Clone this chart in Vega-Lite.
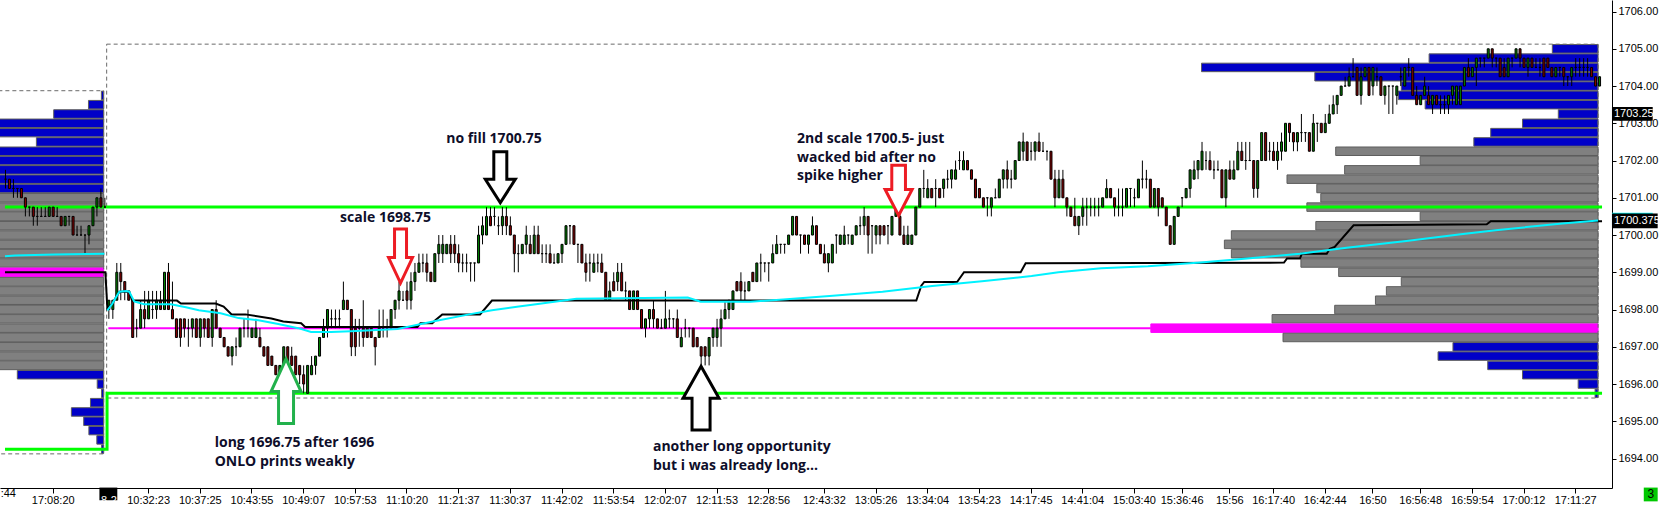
{
  "$schema": "https://vega.github.io/schema/vega-lite/v6.json",
  "width": 1612,
  "height": 488,
  "autosize": {"type": "none"},
  "padding": {"left": 0, "top": 0, "right": 54, "bottom": 22},
  "background": "#ffffff",
  "config": {
    "view": {"stroke": null},
    "axis": {"grid": false, "domainColor": "#000000", "tickColor": "#000000", "labelFont": "Liberation Sans", "labelFontSize": 11, "labelColor": "#000000", "labelFlush": false, "labelOverlap": false}
  },
  "datasets": {
    "vpCur": [
      {"p":1705.0,"s":363.25,"k":"out"},{"p":1704.75,"s":332.25,"k":"out"},{"p":1704.5,"s":275,"k":"out"},{"p":1704.25,"s":303.5,"k":"out"},
      {"p":1704.0,"s":325.25,"k":"out"},{"p":1703.75,"s":324.5,"k":"out"},{"p":1703.5,"s":331.25,"k":"out"},{"p":1703.25,"s":364.75,"k":"out"},
      {"p":1703.0,"s":355.75,"k":"out"},{"p":1702.75,"s":347.75,"k":"out"},{"p":1702.5,"s":343.5,"k":"out"},{"p":1702.25,"s":308.75,"k":"va"},
      {"p":1702.0,"s":330,"k":"va"},{"p":1701.75,"s":311,"k":"va"},{"p":1701.5,"s":296.5,"k":"va"},{"p":1701.25,"s":304,"k":"va"},
      {"p":1701.0,"s":305,"k":"va"},{"p":1700.75,"s":301.5,"k":"va"},{"p":1700.5,"s":330,"k":"va"},{"p":1700.25,"s":303.75,"k":"va"},
      {"p":1700.0,"s":282.5,"k":"va"},{"p":1699.75,"s":280.75,"k":"va"},{"p":1699.5,"s":282.5,"k":"va"},{"p":1699.25,"s":300,"k":"va"},
      {"p":1699.0,"s":309.5,"k":"va"},{"p":1698.75,"s":325.25,"k":"va"},{"p":1698.5,"s":321.5,"k":"va"},{"p":1698.25,"s":318.75,"k":"va"},
      {"p":1698.0,"s":308.5,"k":"va"},{"p":1697.75,"s":292.75,"k":"va"},{"p":1697.5,"s":262.25,"k":"poc"},{"p":1697.25,"s":295.5,"k":"va"},
      {"p":1697.0,"s":338.25,"k":"out"},{"p":1696.75,"s":334.5,"k":"out"},{"p":1696.5,"s":347,"k":"out"},{"p":1696.25,"s":355.75,"k":"out"},
      {"p":1696.0,"s":369.75,"k":"out"},{"p":1695.75,"s":374,"k":"out"}
    ],
    "vpPrev": [
      {"p":1703.75,"s":-1.75,"k":"out"},{"p":1703.5,"s":-5,"k":"out"},{"p":1703.25,"s":-13.75,"k":"out"},{"p":1703.0,"s":-39,"k":"out"},
      {"p":1702.75,"s":-34,"k":"out"},{"p":1702.5,"s":-18.1,"k":"out"},{"p":1702.25,"s":-36,"k":"out"},{"p":1702.0,"s":-42,"k":"out"},
      {"p":1701.75,"s":-45,"k":"out"},{"p":1701.5,"s":-40,"k":"out"},{"p":1701.25,"s":-37,"k":"out"},{"p":1701.0,"s":-41,"k":"va"},
      {"p":1700.75,"s":-48,"k":"va"},{"p":1700.5,"s":-53,"k":"va"},{"p":1700.25,"s":-51,"k":"va"},{"p":1700.0,"s":-47,"k":"va"},
      {"p":1699.75,"s":-45,"k":"va"},{"p":1699.5,"s":-50,"k":"va"},{"p":1699.25,"s":-56,"k":"va"},{"p":1699.0,"s":-63,"k":"poc"},
      {"p":1698.75,"s":-54,"k":"va"},{"p":1698.5,"s":-49,"k":"va"},{"p":1698.25,"s":-46,"k":"va"},{"p":1698.0,"s":-44,"k":"va"},
      {"p":1697.75,"s":-42,"k":"va"},{"p":1697.5,"s":-39,"k":"va"},{"p":1697.25,"s":-37,"k":"va"},{"p":1697.0,"s":-35,"k":"va"},
      {"p":1696.75,"s":-32,"k":"va"},{"p":1696.5,"s":-31,"k":"va"},{"p":1696.25,"s":-22.9,"k":"out"},{"p":1696.0,"s":-2.8,"k":"out"},
      {"p":1695.75,"s":-1.7,"k":"out"},{"p":1695.5,"s":-4.5,"k":"out"},{"p":1695.25,"s":-9.3,"k":"out"},{"p":1695.0,"s":-6.2,"k":"out"},
      {"p":1694.75,"s":-4.9,"k":"out"},{"p":1694.5,"s":-2.9,"k":"out"},{"p":1694.25,"s":-1.7,"k":"out"}
    ],
    "rng": [
      {"a":-0.425,"b":374.75,"lo":1695.625,"hi":1705.125},
      {"a":-40,"b":-1.175,"lo":1694.125,"hi":1703.875}
    ],
    "grn": [
      {"g":"a","n":0,"i":-26,"p":1700.75},{"g":"a","n":1,"i":375.75,"p":1700.75},
      {"g":"b","n":0,"i":-26,"p":1694.25},{"g":"b","n":1,"i":-0.33,"p":1694.25},{"g":"b","n":2,"i":-0.33,"p":1695.75},{"g":"b","n":3,"i":375.75,"p":1695.75}
    ],
    "blk": [
      {"i":-26,"p":1699.0},{"i":-0.75,"p":1699.0},{"i":-0.25,"p":1698.03},{"i":1,"p":1698.16},{"i":2,"p":1698.34},{"i":2.75,"p":1698.48},
      {"i":5.25,"p":1698.48},{"i":6,"p":1698.24},{"i":17.25,"p":1698.24},{"i":18.25,"p":1698.16},{"i":27,"p":1698.16},{"i":29,"p":1698.08},
      {"i":31,"p":1697.87},{"i":34.5,"p":1697.87},{"i":41,"p":1697.76},{"i":44,"p":1697.68},{"i":48.5,"p":1697.63},{"i":49.5,"p":1697.53},
      {"i":77.75,"p":1697.53},{"i":78.5,"p":1697.63},{"i":81.5,"p":1697.63},{"i":82.25,"p":1697.71},{"i":84,"p":1697.87},{"i":93.5,"p":1697.87},
      {"i":96.5,"p":1698.24},{"i":203.25,"p":1698.24},{"i":204.5,"p":1698.64},{"i":205.25,"p":1698.74},{"i":213.5,"p":1698.74},{"i":215.25,"p":1699.0},
      {"i":229.5,"p":1699.0},{"i":230.75,"p":1699.24},{"i":295.75,"p":1699.26},{"i":296.5,"p":1699.37},{"i":299.75,"p":1699.37},{"i":300.25,"p":1699.5},
      {"i":306.5,"p":1699.5},{"i":307.25,"p":1699.63},{"i":308.5,"p":1699.68},{"i":313.25,"p":1700.26},{"i":346.75,"p":1700.29},{"i":347.75,"p":1700.37},
      {"i":375.75,"p":1700.37}
    ],
    "cyn": [
      {"s":0,"i":-26,"p":1699.43},{"s":0,"i":-23.5,"p":1699.45},{"s":0,"i":-13.5,"p":1699.48},{"s":0,"i":-1,"p":1699.5},
      {"s":1,"i":-0.25,"p":1697.98},{"s":1,"i":1,"p":1698.16},{"s":1,"i":2.75,"p":1698.48},{"s":1,"i":4.5,"p":1698.5},{"s":1,"i":5.25,"p":1698.48},
      {"s":1,"i":6.5,"p":1698.22},{"s":1,"i":9,"p":1698.14},{"s":1,"i":15.75,"p":1698.14},{"s":1,"i":19.5,"p":1698.06},{"s":1,"i":22.75,"p":1697.98},
      {"s":1,"i":28.25,"p":1697.9},{"s":1,"i":32.75,"p":1697.77},{"s":1,"i":37.75,"p":1697.71},{"s":1,"i":42.75,"p":1697.61},{"s":1,"i":47.75,"p":1697.5},
      {"s":1,"i":51,"p":1697.4},{"s":1,"i":56,"p":1697.4},{"s":1,"i":61,"p":1697.42},{"s":1,"i":72.75,"p":1697.48},{"s":1,"i":82.25,"p":1697.69},
      {"s":1,"i":90.75,"p":1697.87},{"s":1,"i":96.5,"p":1697.98},{"s":1,"i":103.25,"p":1698.08},{"s":1,"i":109,"p":1698.16},{"s":1,"i":117.75,"p":1698.29},
      {"s":1,"i":145.75,"p":1698.32},{"s":1,"i":149,"p":1698.21},{"s":1,"i":161.5,"p":1698.21},{"s":1,"i":169.75,"p":1698.27},{"s":1,"i":182.25,"p":1698.37},
      {"s":1,"i":194.75,"p":1698.48},{"s":1,"i":207.25,"p":1698.63},{"s":1,"i":219.75,"p":1698.76},{"s":1,"i":232.25,"p":1698.9},{"s":1,"i":239,"p":1699.0},
      {"s":1,"i":249.75,"p":1699.11},{"s":1,"i":261.5,"p":1699.16},{"s":1,"i":274.75,"p":1699.26},{"s":1,"i":286.5,"p":1699.37},{"s":1,"i":299.75,"p":1699.5},
      {"s":1,"i":311.5,"p":1699.66},{"s":1,"i":326.5,"p":1699.84},{"s":1,"i":340.75,"p":1700.03},{"s":1,"i":349,"p":1700.13},{"s":1,"i":365.75,"p":1700.31},
      {"s":1,"i":374.75,"p":1700.39}
    ],
    "arrows": [
      {"k":"r1","i":73.5,"p":1699.435},
      {"k":"b1","i":98.6,"p":1701.55},
      {"k":"r2","i":198.8,"p":1701.2},
      {"k":"g1","i":44.7,"p":1695.81},
      {"k":"b2","i":149.1,"p":1695.62}
    ],
    "notes": [
      {"i":85,"p":1702.58,"t":"no fill 1700.75"},
      {"i":58.3,"p":1700.47,"t":"scale 1698.75"},
      {"i":173.25,"p":1702.58,"t":"2nd scale 1700.5- just"},
      {"i":173.25,"p":1702.08,"t":"wacked bid after no"},
      {"i":173.25,"p":1701.58,"t":"spike higher"},
      {"i":26.75,"p":1694.42,"t":"long 1696.75 after 1696"},
      {"i":26.75,"p":1693.91,"t":"ONLO prints weakly"},
      {"i":137,"p":1694.3,"t":"another long opportunity"},
      {"i":137,"p":1693.81,"t":"but i was already long..."}
    ],
    "candles": [
      {"i":-26,"o":1701.5,"h":1701.75,"l":1701.25,"c":1701.5},{"i":-25,"o":1701.5,"h":1701.5,"l":1701.25,"c":1701.25},
      {"i":-24,"o":1701.25,"h":1701.5,"l":1701.0,"c":1701.25},{"i":-23,"o":1701.25,"h":1701.25,"l":1701.0,"c":1701.25},
      {"i":-22,"o":1701.25,"h":1701.25,"l":1701.0,"c":1701.0},{"i":-21,"o":1701.0,"h":1701.0,"l":1700.5,"c":1700.75},
      {"i":-20,"o":1700.75,"h":1700.75,"l":1700.5,"c":1700.75},{"i":-19,"o":1700.75,"h":1700.75,"l":1700.25,"c":1700.5},
      {"i":-18,"o":1700.5,"h":1700.75,"l":1700.25,"c":1700.5},{"i":-17,"o":1700.5,"h":1700.75,"l":1700.5,"c":1700.5},
      {"i":-16,"o":1700.5,"h":1700.75,"l":1700.5,"c":1700.5},{"i":-15,"o":1700.5,"h":1700.75,"l":1700.5,"c":1700.75},
      {"i":-14,"o":1700.75,"h":1700.75,"l":1700.5,"c":1700.5},{"i":-13,"o":1700.5,"h":1700.75,"l":1700.5,"c":1700.5},
      {"i":-12,"o":1700.5,"h":1700.5,"l":1700.25,"c":1700.25},{"i":-11,"o":1700.25,"h":1700.5,"l":1700.25,"c":1700.5},
      {"i":-10,"o":1700.5,"h":1700.5,"l":1700.25,"c":1700.5},{"i":-9,"o":1700.5,"h":1700.5,"l":1700.0,"c":1700.0},
      {"i":-8,"o":1700.0,"h":1700.25,"l":1700.0,"c":1700.0},{"i":-7,"o":1700.0,"h":1700.25,"l":1700.0,"c":1700.0},
      {"i":-6,"o":1700.0,"h":1700.0,"l":1699.5,"c":1700.0},{"i":-5,"o":1700.0,"h":1700.25,"l":1699.75,"c":1700.25},
      {"i":-4,"o":1700.25,"h":1700.75,"l":1700.25,"c":1700.75},{"i":-3,"o":1700.75,"h":1701.0,"l":1700.5,"c":1701.0},
      {"i":-2,"o":1701.0,"h":1701.25,"l":1700.75,"c":1700.75},{"i":-1,"o":1700.75,"h":1701.0,"l":1700.75,"c":1700.75},
      {"i":0,"o":1698.0,"h":1698.25,"l":1697.75,"c":1698.25},{"i":1,"o":1698.0,"h":1698.25,"l":1697.75,"c":1698.25},
      {"i":2,"o":1698.25,"h":1699.25,"l":1698.25,"c":1699.0},{"i":3,"o":1699.0,"h":1699.25,"l":1698.25,"c":1698.75},
      {"i":4,"o":1698.75,"h":1698.75,"l":1698.25,"c":1698.5},{"i":5,"o":1698.5,"h":1698.5,"l":1698.25,"c":1698.25},
      {"i":6,"o":1698.25,"h":1698.25,"l":1697.25,"c":1697.25},{"i":7,"o":1697.5,"h":1697.75,"l":1697.25,"c":1697.5},
      {"i":8,"o":1697.5,"h":1698.25,"l":1697.5,"c":1698.0},{"i":9,"o":1698.0,"h":1698.5,"l":1697.5,"c":1697.75},
      {"i":10,"o":1697.75,"h":1698.5,"l":1697.75,"c":1698.25},{"i":11,"o":1698.0,"h":1698.5,"l":1697.75,"c":1698.0},
      {"i":12,"o":1698.0,"h":1698.5,"l":1697.75,"c":1698.25},{"i":13,"o":1698.25,"h":1698.5,"l":1698.0,"c":1698.0},
      {"i":14,"o":1698.0,"h":1699.0,"l":1698.0,"c":1699.0},{"i":15,"o":1699.0,"h":1699.25,"l":1698.0,"c":1698.0},
      {"i":16,"o":1698.0,"h":1698.75,"l":1697.75,"c":1697.75},{"i":17,"o":1697.75,"h":1697.75,"l":1697.25,"c":1697.25},
      {"i":18,"o":1697.75,"h":1697.75,"l":1697.0,"c":1697.25},{"i":19,"o":1697.75,"h":1697.75,"l":1697.25,"c":1697.5},
      {"i":20,"o":1697.5,"h":1697.75,"l":1697.0,"c":1697.5},{"i":21,"o":1697.5,"h":1697.75,"l":1697.25,"c":1697.75},
      {"i":22,"o":1697.75,"h":1697.75,"l":1697.25,"c":1697.25},{"i":23,"o":1697.25,"h":1697.75,"l":1697.0,"c":1697.75},
      {"i":24,"o":1697.75,"h":1697.75,"l":1697.25,"c":1697.5},{"i":25,"o":1697.75,"h":1697.75,"l":1697.25,"c":1697.25},
      {"i":26,"o":1697.25,"h":1698.0,"l":1697.0,"c":1698.0},{"i":27,"o":1698.0,"h":1698.25,"l":1697.5,"c":1697.5},
      {"i":28,"o":1697.5,"h":1697.5,"l":1697.25,"c":1697.25},{"i":29,"o":1697.25,"h":1697.25,"l":1697.0,"c":1697.0},
      {"i":30,"o":1697.0,"h":1697.0,"l":1696.75,"c":1696.75},{"i":31,"o":1696.75,"h":1697.0,"l":1696.5,"c":1697.0},
      {"i":32,"o":1697.0,"h":1697.25,"l":1696.75,"c":1697.0},{"i":33,"o":1697.0,"h":1697.5,"l":1697.0,"c":1697.5},
      {"i":34,"o":1697.5,"h":1697.75,"l":1697.25,"c":1697.5},{"i":35,"o":1697.5,"h":1698.0,"l":1697.25,"c":1697.5},
      {"i":36,"o":1697.25,"h":1697.5,"l":1697.25,"c":1697.5},{"i":37,"o":1697.25,"h":1697.75,"l":1697.25,"c":1697.5},
      {"i":38,"o":1697.25,"h":1697.5,"l":1697.0,"c":1697.0},{"i":39,"o":1697.0,"h":1697.0,"l":1696.75,"c":1696.75},
      {"i":40,"o":1697.0,"h":1697.0,"l":1696.5,"c":1696.5},{"i":41,"o":1696.75,"h":1696.75,"l":1696.5,"c":1696.5},
      {"i":42,"o":1696.5,"h":1696.5,"l":1696.25,"c":1696.25},{"i":43,"o":1696.25,"h":1696.5,"l":1696.25,"c":1696.5},
      {"i":44,"o":1696.25,"h":1697.0,"l":1696.25,"c":1697.0},{"i":45,"o":1697.0,"h":1697.0,"l":1696.5,"c":1696.5},
      {"i":46,"o":1696.75,"h":1697.0,"l":1696.5,"c":1696.5},{"i":47,"o":1696.75,"h":1696.75,"l":1696.25,"c":1696.25},
      {"i":48,"o":1696.5,"h":1696.5,"l":1696.0,"c":1696.25},{"i":49,"o":1696.25,"h":1696.5,"l":1695.75,"c":1696.0},
      {"i":50,"o":1695.75,"h":1696.5,"l":1695.75,"c":1696.5},{"i":51,"o":1696.25,"h":1696.75,"l":1696.25,"c":1696.5},
      {"i":52,"o":1696.5,"h":1696.75,"l":1696.25,"c":1696.75},{"i":53,"o":1696.75,"h":1697.25,"l":1696.75,"c":1697.25},
      {"i":54,"o":1697.25,"h":1697.75,"l":1697.25,"c":1697.5},{"i":55,"o":1697.5,"h":1698.0,"l":1697.25,"c":1698.0},
      {"i":56,"o":1697.75,"h":1698.0,"l":1697.5,"c":1697.75},{"i":57,"o":1697.75,"h":1698.0,"l":1697.5,"c":1697.75},
      {"i":58,"o":1697.75,"h":1698.0,"l":1697.5,"c":1697.75},{"i":59,"o":1698.0,"h":1698.75,"l":1698.0,"c":1698.25},
      {"i":60,"o":1698.25,"h":1698.25,"l":1698.0,"c":1698.0},{"i":61,"o":1698.0,"h":1698.0,"l":1696.75,"c":1697.0},
      {"i":62,"o":1697.5,"h":1697.75,"l":1696.75,"c":1697.0},{"i":63,"o":1697.5,"h":1697.75,"l":1697.0,"c":1697.5},
      {"i":64,"o":1697.5,"h":1698.25,"l":1697.0,"c":1697.25},{"i":65,"o":1697.5,"h":1697.5,"l":1697.25,"c":1697.25},
      {"i":66,"o":1697.5,"h":1697.5,"l":1697.25,"c":1697.25},{"i":67,"o":1697.25,"h":1697.25,"l":1696.5,"c":1697.0},
      {"i":68,"o":1697.25,"h":1698.0,"l":1697.25,"c":1697.5},{"i":69,"o":1697.5,"h":1698.0,"l":1697.25,"c":1697.5},
      {"i":70,"o":1697.5,"h":1697.75,"l":1697.25,"c":1697.5},{"i":71,"o":1697.5,"h":1698.0,"l":1697.5,"c":1698.0},
      {"i":72,"o":1698.0,"h":1698.25,"l":1697.75,"c":1698.25},{"i":73,"o":1698.25,"h":1698.75,"l":1698.0,"c":1698.5},
      {"i":74,"o":1698.25,"h":1698.5,"l":1698.25,"c":1698.25},{"i":75,"o":1698.5,"h":1698.75,"l":1698.0,"c":1698.25},
      {"i":76,"o":1698.25,"h":1699.0,"l":1698.0,"c":1698.75},{"i":77,"o":1698.75,"h":1699.25,"l":1698.5,"c":1699.0},
      {"i":78,"o":1699.0,"h":1699.5,"l":1699.0,"c":1699.25},{"i":79,"o":1699.25,"h":1699.5,"l":1699.0,"c":1699.25},
      {"i":80,"o":1699.25,"h":1699.5,"l":1698.75,"c":1699.0},{"i":81,"o":1699.0,"h":1699.0,"l":1698.75,"c":1698.75},
      {"i":82,"o":1698.75,"h":1699.5,"l":1698.75,"c":1699.5},{"i":83,"o":1699.5,"h":1700.0,"l":1699.25,"c":1699.75},
      {"i":84,"o":1699.5,"h":1700.0,"l":1699.25,"c":1699.75},{"i":85,"o":1699.5,"h":1699.75,"l":1699.5,"c":1699.75},
      {"i":86,"o":1699.75,"h":1700.0,"l":1699.25,"c":1699.5},{"i":87,"o":1699.75,"h":1700.0,"l":1699.25,"c":1699.5},
      {"i":88,"o":1699.5,"h":1699.75,"l":1699.0,"c":1699.25},{"i":89,"o":1699.25,"h":1699.5,"l":1699.0,"c":1699.25},
      {"i":90,"o":1699.25,"h":1699.5,"l":1699.0,"c":1699.25},{"i":91,"o":1699.25,"h":1699.25,"l":1698.75,"c":1699.25},
      {"i":92,"o":1699.25,"h":1699.25,"l":1698.75,"c":1699.25},{"i":93,"o":1699.25,"h":1700.25,"l":1699.25,"c":1700.0},
      {"i":94,"o":1700.0,"h":1700.5,"l":1699.75,"c":1700.25},{"i":95,"o":1700.0,"h":1700.75,"l":1700.0,"c":1700.5},
      {"i":96,"o":1700.5,"h":1700.75,"l":1700.25,"c":1700.25},{"i":97,"o":1700.5,"h":1700.75,"l":1700.25,"c":1700.5},
      {"i":98,"o":1700.25,"h":1700.5,"l":1700.0,"c":1700.25},{"i":99,"o":1700.25,"h":1700.75,"l":1700.0,"c":1700.5},
      {"i":100,"o":1700.5,"h":1700.75,"l":1700.0,"c":1700.25},{"i":101,"o":1700.25,"h":1700.5,"l":1700.0,"c":1700.0},
      {"i":102,"o":1700.0,"h":1700.0,"l":1699.0,"c":1699.5},{"i":103,"o":1699.5,"h":1699.75,"l":1699.0,"c":1699.5},
      {"i":104,"o":1699.5,"h":1699.75,"l":1699.5,"c":1699.75},{"i":105,"o":1699.75,"h":1700.25,"l":1699.5,"c":1700.0},
      {"i":106,"o":1699.75,"h":1700.0,"l":1699.5,"c":1699.5},{"i":107,"o":1699.5,"h":1700.25,"l":1699.5,"c":1700.0},
      {"i":108,"o":1700.0,"h":1700.25,"l":1699.5,"c":1699.5},{"i":109,"o":1699.5,"h":1699.75,"l":1699.25,"c":1699.5},
      {"i":110,"o":1699.5,"h":1699.75,"l":1699.25,"c":1699.5},{"i":111,"o":1699.5,"h":1699.75,"l":1699.25,"c":1699.25},
      {"i":112,"o":1699.25,"h":1699.5,"l":1699.25,"c":1699.25},{"i":113,"o":1699.25,"h":1699.5,"l":1699.25,"c":1699.5},
      {"i":114,"o":1699.5,"h":1699.75,"l":1699.25,"c":1699.75},{"i":115,"o":1699.75,"h":1700.25,"l":1699.75,"c":1700.25},
      {"i":116,"o":1700.25,"h":1700.25,"l":1699.75,"c":1700.25},{"i":117,"o":1700.25,"h":1700.25,"l":1699.75,"c":1699.75},
      {"i":118,"o":1699.75,"h":1699.75,"l":1699.25,"c":1699.75},{"i":119,"o":1699.75,"h":1699.75,"l":1699.25,"c":1699.25},
      {"i":120,"o":1699.25,"h":1699.5,"l":1698.75,"c":1699.0},{"i":121,"o":1699.25,"h":1699.5,"l":1698.75,"c":1699.25},
      {"i":122,"o":1699.0,"h":1699.5,"l":1699.0,"c":1699.25},{"i":123,"o":1699.25,"h":1699.5,"l":1699.0,"c":1699.25},
      {"i":124,"o":1699.25,"h":1699.5,"l":1699.0,"c":1699.0},{"i":125,"o":1699.0,"h":1699.0,"l":1698.25,"c":1698.25},
      {"i":126,"o":1698.25,"h":1698.75,"l":1698.25,"c":1698.5},{"i":127,"o":1698.75,"h":1699.0,"l":1698.5,"c":1698.5},
      {"i":128,"o":1698.75,"h":1699.25,"l":1698.5,"c":1699.0},{"i":129,"o":1699.0,"h":1699.25,"l":1698.5,"c":1698.5},
      {"i":130,"o":1698.5,"h":1698.75,"l":1698.25,"c":1698.5},{"i":131,"o":1698.5,"h":1698.5,"l":1698.0,"c":1698.0},
      {"i":132,"o":1698.0,"h":1698.5,"l":1698.0,"c":1698.5},{"i":133,"o":1698.5,"h":1698.5,"l":1698.0,"c":1698.0},
      {"i":134,"o":1698.0,"h":1698.0,"l":1697.5,"c":1697.5},{"i":135,"o":1697.5,"h":1697.75,"l":1697.25,"c":1697.75},
      {"i":136,"o":1697.75,"h":1698.0,"l":1697.5,"c":1698.0},{"i":137,"o":1698.0,"h":1698.25,"l":1697.5,"c":1697.75},
      {"i":138,"o":1697.75,"h":1697.75,"l":1697.5,"c":1697.5},{"i":139,"o":1697.5,"h":1697.75,"l":1697.5,"c":1697.5},
      {"i":140,"o":1697.5,"h":1698.5,"l":1697.5,"c":1697.75},{"i":141,"o":1697.75,"h":1698.0,"l":1697.5,"c":1697.75},
      {"i":142,"o":1697.75,"h":1697.75,"l":1697.5,"c":1697.75},{"i":143,"o":1697.75,"h":1698.0,"l":1697.25,"c":1697.25},
      {"i":144,"o":1697.0,"h":1697.5,"l":1697.0,"c":1697.25},{"i":145,"o":1697.5,"h":1697.75,"l":1697.25,"c":1697.5},
      {"i":146,"o":1697.5,"h":1697.5,"l":1697.25,"c":1697.5},{"i":147,"o":1697.5,"h":1697.5,"l":1697.0,"c":1697.0},
      {"i":148,"o":1697.25,"h":1697.25,"l":1697.0,"c":1697.0},{"i":149,"o":1697.0,"h":1697.0,"l":1696.5,"c":1696.75},
      {"i":150,"o":1697.0,"h":1697.0,"l":1696.5,"c":1696.75},{"i":151,"o":1696.75,"h":1697.25,"l":1696.5,"c":1697.25},
      {"i":152,"o":1697.25,"h":1697.5,"l":1697.0,"c":1697.5},{"i":153,"o":1697.25,"h":1697.75,"l":1697.0,"c":1697.5},
      {"i":154,"o":1697.5,"h":1698.0,"l":1697.0,"c":1697.75},{"i":155,"o":1697.75,"h":1698.25,"l":1697.75,"c":1698.0},
      {"i":156,"o":1698.0,"h":1698.25,"l":1697.75,"c":1698.25},{"i":157,"o":1698.0,"h":1698.5,"l":1698.0,"c":1698.5},
      {"i":158,"o":1698.75,"h":1698.75,"l":1698.5,"c":1698.5},{"i":159,"o":1698.75,"h":1699.0,"l":1698.25,"c":1698.5},
      {"i":160,"o":1698.5,"h":1698.75,"l":1698.25,"c":1698.5},{"i":161,"o":1698.5,"h":1698.75,"l":1698.5,"c":1698.75},
      {"i":162,"o":1699.0,"h":1699.0,"l":1698.75,"c":1698.75},{"i":163,"o":1698.75,"h":1699.25,"l":1698.75,"c":1699.25},
      {"i":164,"o":1699.25,"h":1699.5,"l":1698.75,"c":1699.25},{"i":165,"o":1699.25,"h":1699.25,"l":1699.0,"c":1699.25},
      {"i":166,"o":1699.25,"h":1699.25,"l":1698.75,"c":1699.25},{"i":167,"o":1699.25,"h":1699.75,"l":1699.25,"c":1699.5},
      {"i":168,"o":1699.5,"h":1700.0,"l":1699.5,"c":1699.75},{"i":169,"o":1699.75,"h":1699.75,"l":1699.5,"c":1699.75},
      {"i":170,"o":1699.75,"h":1699.75,"l":1699.5,"c":1699.75},{"i":171,"o":1699.75,"h":1700.0,"l":1699.75,"c":1700.0},
      {"i":172,"o":1700.0,"h":1700.5,"l":1700.0,"c":1700.5},{"i":173,"o":1700.5,"h":1700.5,"l":1700.0,"c":1700.0},
      {"i":174,"o":1700.0,"h":1700.0,"l":1699.5,"c":1700.0},{"i":175,"o":1700.0,"h":1700.0,"l":1699.75,"c":1699.75},
      {"i":176,"o":1699.75,"h":1700.0,"l":1699.5,"c":1700.0},{"i":177,"o":1700.0,"h":1700.5,"l":1700.0,"c":1700.25},
      {"i":178,"o":1700.25,"h":1700.25,"l":1699.75,"c":1699.75},{"i":179,"o":1699.75,"h":1699.75,"l":1699.5,"c":1699.5},
      {"i":180,"o":1699.5,"h":1699.75,"l":1699.25,"c":1699.25},{"i":181,"o":1699.25,"h":1699.5,"l":1699.0,"c":1699.5},
      {"i":182,"o":1699.25,"h":1699.75,"l":1699.25,"c":1699.75},{"i":183,"o":1700.0,"h":1700.0,"l":1699.5,"c":1700.0},
      {"i":184,"o":1699.75,"h":1700.0,"l":1699.75,"c":1700.0},{"i":185,"o":1699.75,"h":1700.25,"l":1699.75,"c":1700.0},
      {"i":186,"o":1700.0,"h":1700.0,"l":1699.75,"c":1700.0},{"i":187,"o":1699.75,"h":1700.0,"l":1699.75,"c":1700.0},
      {"i":188,"o":1700.0,"h":1700.25,"l":1700.0,"c":1700.25},{"i":189,"o":1700.25,"h":1700.5,"l":1700.0,"c":1700.25},
      {"i":190,"o":1700.25,"h":1700.75,"l":1700.0,"c":1700.5},{"i":191,"o":1700.5,"h":1700.5,"l":1699.5,"c":1700.0},
      {"i":192,"o":1700.25,"h":1700.25,"l":1699.5,"c":1700.25},{"i":193,"o":1700.0,"h":1700.25,"l":1699.75,"c":1700.25},
      {"i":194,"o":1700.25,"h":1700.25,"l":1699.75,"c":1700.0},{"i":195,"o":1700.25,"h":1700.25,"l":1700.0,"c":1700.0},
      {"i":196,"o":1700.25,"h":1700.25,"l":1699.75,"c":1700.25},{"i":197,"o":1700.0,"h":1700.5,"l":1700.0,"c":1700.5},
      {"i":198,"o":1700.5,"h":1700.75,"l":1700.5,"c":1700.75},{"i":199,"o":1700.5,"h":1700.75,"l":1700.0,"c":1700.0},
      {"i":200,"o":1700.0,"h":1700.25,"l":1699.75,"c":1699.75},{"i":201,"o":1699.75,"h":1700.25,"l":1699.75,"c":1700.0},
      {"i":202,"o":1699.75,"h":1700.0,"l":1699.75,"c":1700.0},{"i":203,"o":1700.0,"h":1700.75,"l":1700.0,"c":1700.75},
      {"i":204,"o":1700.75,"h":1701.25,"l":1700.75,"c":1701.25},{"i":205,"o":1701.25,"h":1701.75,"l":1701.0,"c":1701.25},
      {"i":206,"o":1701.0,"h":1701.5,"l":1701.0,"c":1701.25},{"i":207,"o":1701.25,"h":1701.25,"l":1701.0,"c":1701.0},
      {"i":208,"o":1701.25,"h":1701.5,"l":1700.75,"c":1701.25},{"i":209,"o":1701.25,"h":1701.25,"l":1701.0,"c":1701.0},
      {"i":210,"o":1701.25,"h":1701.5,"l":1701.0,"c":1701.5},{"i":211,"o":1701.5,"h":1701.75,"l":1701.25,"c":1701.5},
      {"i":212,"o":1701.5,"h":1701.75,"l":1701.25,"c":1701.75},{"i":213,"o":1701.5,"h":1702.0,"l":1701.5,"c":1701.75},
      {"i":214,"o":1702.0,"h":1702.25,"l":1701.75,"c":1702.0},{"i":215,"o":1701.75,"h":1702.25,"l":1701.75,"c":1702.0},
      {"i":216,"o":1702.0,"h":1702.0,"l":1701.75,"c":1701.75},{"i":217,"o":1701.75,"h":1701.75,"l":1701.5,"c":1701.5},
      {"i":218,"o":1701.5,"h":1701.5,"l":1701.0,"c":1701.0},{"i":219,"o":1701.25,"h":1701.25,"l":1701.0,"c":1701.0},
      {"i":220,"o":1701.0,"h":1701.0,"l":1700.75,"c":1700.75},{"i":221,"o":1701.0,"h":1701.0,"l":1700.5,"c":1701.0},
      {"i":222,"o":1700.75,"h":1701.0,"l":1700.5,"c":1701.0},{"i":223,"o":1701.0,"h":1701.25,"l":1701.0,"c":1701.0},
      {"i":224,"o":1701.0,"h":1701.5,"l":1701.0,"c":1701.5},{"i":225,"o":1701.5,"h":1701.75,"l":1701.25,"c":1701.75},
      {"i":226,"o":1701.75,"h":1702.0,"l":1701.25,"c":1701.5},{"i":227,"o":1701.5,"h":1701.75,"l":1701.25,"c":1701.5},
      {"i":228,"o":1701.5,"h":1702.0,"l":1701.5,"c":1702.0},{"i":229,"o":1702.0,"h":1702.5,"l":1702.0,"c":1702.5},
      {"i":230,"o":1702.25,"h":1702.75,"l":1702.0,"c":1702.5},{"i":231,"o":1702.5,"h":1702.5,"l":1702.0,"c":1702.0},
      {"i":232,"o":1702.25,"h":1702.5,"l":1702.0,"c":1702.25},{"i":233,"o":1702.25,"h":1702.5,"l":1702.0,"c":1702.5},
      {"i":234,"o":1702.5,"h":1702.75,"l":1702.25,"c":1702.25},{"i":235,"o":1702.25,"h":1702.5,"l":1702.25,"c":1702.25},
      {"i":236,"o":1702.25,"h":1702.25,"l":1702.0,"c":1702.25},{"i":237,"o":1702.25,"h":1702.25,"l":1701.5,"c":1701.5},
      {"i":238,"o":1701.5,"h":1701.75,"l":1700.75,"c":1701.0},{"i":239,"o":1701.0,"h":1701.75,"l":1701.0,"c":1701.5},
      {"i":240,"o":1701.5,"h":1701.75,"l":1701.0,"c":1701.0},{"i":241,"o":1701.0,"h":1701.0,"l":1700.5,"c":1700.75},
      {"i":242,"o":1700.75,"h":1700.75,"l":1700.5,"c":1700.5},{"i":243,"o":1700.5,"h":1701.0,"l":1700.25,"c":1700.25},
      {"i":244,"o":1700.25,"h":1700.5,"l":1700.0,"c":1700.5},{"i":245,"o":1700.5,"h":1701.0,"l":1700.25,"c":1700.75},
      {"i":246,"o":1700.75,"h":1701.0,"l":1700.25,"c":1700.75},{"i":247,"o":1700.75,"h":1701.0,"l":1700.5,"c":1700.75},
      {"i":248,"o":1700.75,"h":1701.0,"l":1700.5,"c":1700.75},{"i":249,"o":1700.75,"h":1701.0,"l":1700.5,"c":1700.75},
      {"i":250,"o":1700.75,"h":1701.0,"l":1700.75,"c":1701.0},{"i":251,"o":1701.0,"h":1701.5,"l":1701.0,"c":1701.25},
      {"i":252,"o":1701.25,"h":1701.25,"l":1701.0,"c":1701.0},{"i":253,"o":1701.0,"h":1701.0,"l":1700.5,"c":1700.75},
      {"i":254,"o":1700.75,"h":1701.25,"l":1700.5,"c":1700.75},{"i":255,"o":1700.75,"h":1701.25,"l":1700.5,"c":1700.75},
      {"i":256,"o":1700.75,"h":1701.25,"l":1700.75,"c":1701.25},{"i":257,"o":1701.25,"h":1701.25,"l":1700.75,"c":1701.25},
      {"i":258,"o":1701.0,"h":1701.25,"l":1700.75,"c":1701.0},{"i":259,"o":1701.0,"h":1701.5,"l":1701.0,"c":1701.5},
      {"i":260,"o":1701.5,"h":1702.0,"l":1701.25,"c":1701.5},{"i":261,"o":1701.5,"h":1701.75,"l":1701.25,"c":1701.5},
      {"i":262,"o":1701.5,"h":1701.5,"l":1700.75,"c":1700.75},{"i":263,"o":1700.75,"h":1701.25,"l":1700.75,"c":1701.25},
      {"i":264,"o":1701.25,"h":1701.25,"l":1700.5,"c":1700.75},{"i":265,"o":1701.0,"h":1701.0,"l":1700.75,"c":1700.75},
      {"i":266,"o":1700.75,"h":1700.75,"l":1700.25,"c":1700.25},{"i":267,"o":1700.25,"h":1700.25,"l":1699.75,"c":1699.75},
      {"i":268,"o":1699.75,"h":1700.5,"l":1699.75,"c":1700.5},{"i":269,"o":1700.5,"h":1700.75,"l":1700.5,"c":1700.75},
      {"i":270,"o":1701.0,"h":1701.0,"l":1700.75,"c":1701.0},{"i":271,"o":1701.0,"h":1701.25,"l":1701.0,"c":1701.25},
      {"i":272,"o":1701.25,"h":1701.75,"l":1701.0,"c":1701.75},{"i":273,"o":1701.5,"h":1702.0,"l":1701.5,"c":1701.75},
      {"i":274,"o":1701.75,"h":1702.0,"l":1701.5,"c":1702.0},{"i":275,"o":1701.75,"h":1702.5,"l":1701.75,"c":1702.25},
      {"i":276,"o":1702.0,"h":1702.25,"l":1701.75,"c":1702.0},{"i":277,"o":1702.0,"h":1702.25,"l":1701.75,"c":1701.75},
      {"i":278,"o":1701.75,"h":1702.0,"l":1701.5,"c":1701.75},{"i":279,"o":1701.75,"h":1702.0,"l":1701.75,"c":1701.75},
      {"i":280,"o":1701.75,"h":1701.75,"l":1701.0,"c":1701.0},{"i":281,"o":1701.0,"h":1701.75,"l":1700.75,"c":1701.75},
      {"i":282,"o":1701.75,"h":1702.0,"l":1701.5,"c":1701.5},{"i":283,"o":1701.5,"h":1702.0,"l":1701.5,"c":1701.75},
      {"i":284,"o":1701.75,"h":1702.5,"l":1701.75,"c":1702.25},{"i":285,"o":1702.25,"h":1702.5,"l":1702.0,"c":1702.0},
      {"i":286,"o":1702.0,"h":1702.5,"l":1701.75,"c":1702.0},{"i":287,"o":1702.0,"h":1702.5,"l":1702.0,"c":1702.0},
      {"i":288,"o":1702.0,"h":1702.0,"l":1701.0,"c":1701.25},{"i":289,"o":1701.25,"h":1702.0,"l":1701.0,"c":1702.0},
      {"i":290,"o":1702.0,"h":1702.75,"l":1702.0,"c":1702.75},{"i":291,"o":1702.75,"h":1702.75,"l":1702.0,"c":1702.0},
      {"i":292,"o":1702.25,"h":1702.5,"l":1702.0,"c":1702.25},{"i":293,"o":1702.25,"h":1702.5,"l":1702.0,"c":1702.0},
      {"i":294,"o":1702.0,"h":1702.5,"l":1701.75,"c":1702.25},{"i":295,"o":1702.25,"h":1702.75,"l":1702.0,"c":1702.5},
      {"i":296,"o":1702.25,"h":1703.0,"l":1702.25,"c":1703.0},{"i":297,"o":1703.0,"h":1703.0,"l":1702.5,"c":1702.75},
      {"i":298,"o":1702.75,"h":1702.75,"l":1702.25,"c":1702.5},{"i":299,"o":1702.5,"h":1702.75,"l":1702.25,"c":1702.75},
      {"i":300,"o":1702.75,"h":1703.25,"l":1702.5,"c":1702.75},{"i":301,"o":1702.75,"h":1702.75,"l":1702.5,"c":1702.75},
      {"i":302,"o":1702.75,"h":1702.75,"l":1702.25,"c":1702.25},{"i":303,"o":1702.25,"h":1703.25,"l":1702.25,"c":1703.0},
      {"i":304,"o":1703.0,"h":1703.0,"l":1702.5,"c":1703.0},{"i":305,"o":1703.0,"h":1703.0,"l":1702.75,"c":1702.75},
      {"i":306,"o":1702.75,"h":1703.25,"l":1702.75,"c":1703.0},{"i":307,"o":1703.0,"h":1703.5,"l":1703.0,"c":1703.25},
      {"i":308,"o":1703.25,"h":1703.75,"l":1703.25,"c":1703.5},{"i":309,"o":1703.5,"h":1703.75,"l":1703.25,"c":1703.75},
      {"i":310,"o":1703.75,"h":1704.0,"l":1703.75,"c":1704.0},{"i":311,"o":1704.0,"h":1704.25,"l":1704.0,"c":1704.0},
      {"i":312,"o":1704.0,"h":1704.5,"l":1704.0,"c":1704.25},{"i":313,"o":1704.25,"h":1704.75,"l":1704.25,"c":1704.25},
      {"i":314,"o":1704.5,"h":1704.5,"l":1703.75,"c":1703.75},{"i":315,"o":1703.75,"h":1704.5,"l":1703.5,"c":1704.25},
      {"i":316,"o":1704.25,"h":1704.5,"l":1704.25,"c":1704.5},{"i":317,"o":1704.5,"h":1704.5,"l":1703.75,"c":1703.75},
      {"i":318,"o":1704.0,"h":1704.5,"l":1703.75,"c":1704.5},{"i":319,"o":1704.25,"h":1704.5,"l":1704.0,"c":1704.25},
      {"i":320,"o":1704.25,"h":1704.25,"l":1703.75,"c":1703.75},{"i":321,"o":1703.75,"h":1704.0,"l":1703.5,"c":1704.0},
      {"i":322,"o":1704.0,"h":1704.0,"l":1703.25,"c":1704.0},{"i":323,"o":1704.0,"h":1704.0,"l":1703.25,"c":1704.0},
      {"i":324,"o":1703.75,"h":1704.0,"l":1703.5,"c":1704.0},{"i":325,"o":1704.25,"h":1704.5,"l":1704.0,"c":1704.25},
      {"i":326,"o":1704.0,"h":1704.5,"l":1704.0,"c":1704.5},{"i":327,"o":1704.5,"h":1704.75,"l":1704.25,"c":1704.5},
      {"i":328,"o":1704.5,"h":1704.5,"l":1703.75,"c":1703.75},{"i":329,"o":1703.75,"h":1704.0,"l":1703.5,"c":1703.5},
      {"i":330,"o":1703.5,"h":1703.75,"l":1703.5,"c":1703.75},{"i":331,"o":1703.75,"h":1704.25,"l":1703.75,"c":1704.0},
      {"i":332,"o":1703.75,"h":1704.0,"l":1703.5,"c":1703.5},{"i":333,"o":1703.5,"h":1703.75,"l":1703.25,"c":1703.75},
      {"i":334,"o":1703.75,"h":1703.75,"l":1703.5,"c":1703.5},{"i":335,"o":1703.5,"h":1703.75,"l":1703.25,"c":1703.5},
      {"i":336,"o":1703.5,"h":1703.75,"l":1703.25,"c":1703.5},{"i":337,"o":1703.5,"h":1703.75,"l":1703.25,"c":1703.75},
      {"i":338,"o":1703.75,"h":1704.0,"l":1703.5,"c":1704.0},{"i":339,"o":1703.5,"h":1704.0,"l":1703.5,"c":1704.0},
      {"i":340,"o":1703.5,"h":1704.0,"l":1703.5,"c":1704.0},{"i":341,"o":1704.0,"h":1704.5,"l":1704.0,"c":1704.5},
      {"i":342,"o":1704.5,"h":1704.75,"l":1704.25,"c":1704.25},{"i":343,"o":1704.25,"h":1704.5,"l":1704.25,"c":1704.5},
      {"i":344,"o":1704.5,"h":1704.75,"l":1704.0,"c":1704.75},{"i":345,"o":1704.75,"h":1704.75,"l":1704.5,"c":1704.75},
      {"i":346,"o":1704.75,"h":1704.75,"l":1704.5,"c":1704.75},{"i":347,"o":1704.75,"h":1705.0,"l":1704.75,"c":1705.0},
      {"i":348,"o":1705.0,"h":1705.0,"l":1704.5,"c":1704.75},{"i":349,"o":1704.75,"h":1704.75,"l":1704.5,"c":1704.75},
      {"i":350,"o":1704.75,"h":1704.75,"l":1704.25,"c":1704.25},{"i":351,"o":1704.5,"h":1704.75,"l":1704.25,"c":1704.25},
      {"i":352,"o":1704.25,"h":1704.75,"l":1704.25,"c":1704.75},{"i":353,"o":1704.75,"h":1704.75,"l":1704.5,"c":1704.75},
      {"i":354,"o":1704.75,"h":1705.0,"l":1704.75,"c":1705.0},{"i":355,"o":1705.0,"h":1705.0,"l":1704.5,"c":1704.75},
      {"i":356,"o":1704.75,"h":1704.75,"l":1704.5,"c":1704.5},{"i":357,"o":1704.5,"h":1704.75,"l":1704.25,"c":1704.75},
      {"i":358,"o":1704.75,"h":1704.75,"l":1704.5,"c":1704.5},{"i":359,"o":1704.5,"h":1704.75,"l":1704.5,"c":1704.5},
      {"i":360,"o":1704.5,"h":1704.75,"l":1704.25,"c":1704.5},{"i":361,"o":1704.75,"h":1704.75,"l":1704.25,"c":1704.25},
      {"i":362,"o":1704.75,"h":1704.75,"l":1704.5,"c":1704.5},{"i":363,"o":1704.5,"h":1704.5,"l":1704.25,"c":1704.25},
      {"i":364,"o":1704.25,"h":1704.5,"l":1704.25,"c":1704.5},{"i":365,"o":1704.5,"h":1704.5,"l":1704.25,"c":1704.5},
      {"i":366,"o":1704.5,"h":1704.5,"l":1704.0,"c":1704.25},{"i":367,"o":1704.25,"h":1704.25,"l":1704.0,"c":1704.25},
      {"i":368,"o":1704.25,"h":1704.5,"l":1704.0,"c":1704.5},{"i":369,"o":1704.5,"h":1704.75,"l":1704.25,"c":1704.5},
      {"i":370,"o":1704.5,"h":1704.75,"l":1704.25,"c":1704.5},{"i":371,"o":1704.5,"h":1704.75,"l":1704.25,"c":1704.5},
      {"i":372,"o":1704.5,"h":1704.75,"l":1704.25,"c":1704.5},{"i":373,"o":1704.5,"h":1704.5,"l":1704.25,"c":1704.25},
      {"i":374,"o":1704.25,"h":1704.25,"l":1704.0,"c":1704.0},{"i":375,"o":1704.0,"h":1704.25,"l":1704.0,"c":1704.25}
    ]
  },
  "layer": [
    {
      "data": {"name": "vpCur"},
      "mark": {"type": "bar", "size": 8.5, "strokeWidth": 1, "clip": true},
      "encoding": {
        "x": {
          "field": "s", "type": "quantitative",
          "scale": {"domain": [-26, 377], "nice": false, "zero": false},
          "axis": {
            "title": null, "zindex": 1,
            "values": [-14, 0, 10, 23, 36, 49, 62, 75, 88, 101, 114, 127, 140, 153, 166, 180, 193, 206, 219, 232, 245, 258, 270, 282, 293, 306, 318, 330, 343, 356, 369],
            "labelExpr": "['17:08:20','8-2','10:32:23','10:37:25','10:43:55','10:49:07','10:57:53','11:10:20','11:21:37','11:30:37','11:42:02','11:53:54','12:02:07','12:11:53','12:28:56','12:43:32','13:05:26','13:34:04','13:54:23','14:17:45','14:41:04','15:03:40','15:36:46','15:56','16:17:40','16:42:44','16:50','16:56:48','16:59:54','17:00:12','17:11:27'][indexof([-14,0,10,23,36,49,62,75,88,101,114,127,140,153,166,180,193,206,219,232,245,258,270,282,293,306,318,330,343,356,369], datum.value)]",
            "tickSize": 5, "labelPadding": 1,
            "labelColor": {"condition": {"test": "datum.value == 0", "value": "#ffffff"}, "value": "#000000"}
          }
        },
        "x2": {"datum": 374.75},
        "y": {
          "field": "p", "type": "quantitative",
          "scale": {"domain": [1693.343, 1706.176], "nice": false, "zero": false},
          "axis": {
            "orient": "right", "title": null,
            "values": [1694, 1695, 1696, 1697, 1698, 1699, 1700, 1701, 1702, 1703, 1704, 1705, 1706],
            "format": ".2f", "tickSize": 4, "labelPadding": 2
          }
        },
        "fill": {"field": "k", "type": "nominal", "scale": {"domain": ["out", "va", "poc"], "range": ["#0000C8", "#808080", "#FF00FF"]}, "legend": null},
        "stroke": {"condition": {"test": "datum.k == 'poc'", "value": "#FF00FF"}, "value": "#5E5E5E"}
      }
    },
    {
      "data": {"name": "vpPrev"},
      "mark": {"type": "bar", "size": 8.5, "strokeWidth": 1, "clip": true},
      "encoding": {
        "x": {"field": "s", "type": "quantitative", "scale": {"domain": [-26, 377], "nice": false, "zero": false}},
        "x2": {"datum": -1.175},
        "y": {"field": "p", "type": "quantitative", "scale": {"domain": [1693.343, 1706.176], "nice": false, "zero": false}},
        "fill": {"field": "k", "type": "nominal", "scale": {"domain": ["out", "va", "poc"], "range": ["#0000C8", "#808080", "#FF00FF"]}, "legend": null},
        "stroke": {"condition": {"test": "datum.k == 'poc'", "value": "#FF00FF"}, "value": "#5E5E5E"}
      }
    },
    {
      "data": {"name": "rng"},
      "mark": {"type": "rect", "fillOpacity": 0, "stroke": "#6A6A6A", "strokeWidth": 1, "strokeDash": [4, 3]},
      "encoding": {
        "x": {"field": "a", "type": "quantitative", "scale": {"domain": [-26, 377], "nice": false, "zero": false}},
        "x2": {"field": "b"},
        "y": {"field": "lo", "type": "quantitative", "scale": {"domain": [1693.343, 1706.176], "nice": false, "zero": false}},
        "y2": {"field": "hi"}
      }
    },
    {
      "data": {"values": [{}]},
      "mark": {"type": "rule", "color": "#FF00FF", "strokeWidth": 2},
      "encoding": {
        "x": {"datum": 0, "type": "quantitative", "scale": {"domain": [-26, 377], "nice": false, "zero": false}},
        "x2": {"datum": 262.25},
        "y": {"datum": 1697.5, "type": "quantitative", "scale": {"domain": [1693.343, 1706.176], "nice": false, "zero": false}}
      }
    },
    {
      "data": {"name": "grn"},
      "mark": {"type": "line", "color": "#00FF00", "strokeWidth": 3, "strokeCap": "butt"},
      "encoding": {
        "x": {"field": "i", "type": "quantitative", "scale": {"domain": [-26, 377], "nice": false, "zero": false}},
        "y": {"field": "p", "type": "quantitative", "scale": {"domain": [1693.343, 1706.176], "nice": false, "zero": false}},
        "detail": {"field": "g"},
        "order": {"field": "n"}
      }
    },
    {
      "data": {"name": "candles"},
      "mark": {"type": "rule", "color": "#000000", "strokeWidth": 1, "xOffset": 0.5},
      "encoding": {
        "x": {"field": "i", "type": "quantitative", "scale": {"domain": [-26, 377], "nice": false, "zero": false}},
        "y": {"field": "l", "type": "quantitative", "scale": {"domain": [1693.343, 1706.176], "nice": false, "zero": false}},
        "y2": {"field": "h"}
      }
    },
    {
      "data": {"name": "candles"},
      "mark": {"type": "bar", "size": 2, "stroke": "#000000", "strokeWidth": 1, "xOffset": 0.5},
      "encoding": {
        "x": {"field": "i", "type": "quantitative", "scale": {"domain": [-26, 377], "nice": false, "zero": false}},
        "y": {"field": "o", "type": "quantitative", "scale": {"domain": [1693.343, 1706.176], "nice": false, "zero": false}},
        "y2": {"field": "c"},
        "fill": {"condition": {"test": "datum.c >= datum.o", "value": "#008000"}, "value": "#8B0000"}
      }
    },
    {
      "data": {"name": "blk"},
      "mark": {"type": "line", "color": "#000000", "strokeWidth": 2},
      "encoding": {
        "x": {"field": "i", "type": "quantitative", "scale": {"domain": [-26, 377], "nice": false, "zero": false}},
        "y": {"field": "p", "type": "quantitative", "scale": {"domain": [1693.343, 1706.176], "nice": false, "zero": false}}
      }
    },
    {
      "data": {"name": "cyn"},
      "mark": {"type": "line", "color": "#00F2FF", "strokeWidth": 2},
      "encoding": {
        "x": {"field": "i", "type": "quantitative", "scale": {"domain": [-26, 377], "nice": false, "zero": false}},
        "y": {"field": "p", "type": "quantitative", "scale": {"domain": [1693.343, 1706.176], "nice": false, "zero": false}},
        "detail": {"field": "s"}
      }
    },
    {
      "data": {"name": "arrows"},
      "transform": [{"filter": "datum.k == 'r1'"}],
      "mark": {"type": "point", "shape": "M-0.222,-1L0.222,-1L0.222,0.056L0.444,0.056L0,1L-0.444,0.056L-0.222,0.056Z", "size": 2916, "filled": true, "fill": "#ffffff", "stroke": "#ED1C24", "strokeWidth": 3, "opacity": 1, "strokeJoin": "miter"},
      "encoding": {
        "x": {"field": "i", "type": "quantitative", "scale": {"domain": [-26, 377], "nice": false, "zero": false}},
        "y": {"field": "p", "type": "quantitative", "scale": {"domain": [1693.343, 1706.176], "nice": false, "zero": false}}
      }
    },
    {
      "data": {"name": "arrows"},
      "transform": [{"filter": "datum.k == 'b1'"}],
      "mark": {"type": "point", "shape": "M-0.255,-1L0.255,-1L0.255,0.078L0.588,0.078L0,1L-0.588,0.078L-0.255,0.078Z", "size": 2601, "filled": true, "fill": "#ffffff", "stroke": "#000000", "strokeWidth": 3, "opacity": 1, "strokeJoin": "miter"},
      "encoding": {
        "x": {"field": "i", "type": "quantitative", "scale": {"domain": [-26, 377], "nice": false, "zero": false}},
        "y": {"field": "p", "type": "quantitative", "scale": {"domain": [1693.343, 1706.176], "nice": false, "zero": false}}
      }
    },
    {
      "data": {"name": "arrows"},
      "transform": [{"filter": "datum.k == 'r2'"}],
      "mark": {"type": "point", "shape": "M-0.272,-1L0.272,-1L0.272,-0.037L0.537,-0.037L0,1L-0.537,-0.037L-0.272,-0.037Z", "size": 2530, "filled": true, "fill": "#ffffff", "stroke": "#ED1C24", "strokeWidth": 3, "opacity": 1, "strokeJoin": "miter"},
      "encoding": {
        "x": {"field": "i", "type": "quantitative", "scale": {"domain": [-26, 377], "nice": false, "zero": false}},
        "y": {"field": "p", "type": "quantitative", "scale": {"domain": [1693.343, 1706.176], "nice": false, "zero": false}}
      }
    },
    {
      "data": {"name": "arrows"},
      "transform": [{"filter": "datum.k == 'g1'"}],
      "mark": {"type": "point", "shape": "M0,-1L0.464,0.015L0.232,0.015L0.232,1L-0.232,1L-0.232,0.015L-0.464,0.015Z", "size": 4173, "filled": true, "fill": "#ffffff", "stroke": "#22B14C", "strokeWidth": 3, "opacity": 1, "strokeJoin": "miter"},
      "encoding": {
        "x": {"field": "i", "type": "quantitative", "scale": {"domain": [-26, 377], "nice": false, "zero": false}},
        "y": {"field": "p", "type": "quantitative", "scale": {"domain": [1693.343, 1706.176], "nice": false, "zero": false}}
      }
    },
    {
      "data": {"name": "arrows"},
      "transform": [{"filter": "datum.k == 'b2'"}],
      "mark": {"type": "point", "shape": "M0,-1L0.565,0L0.283,0L0.283,1L-0.283,1L-0.283,0L-0.565,0Z", "size": 4058, "filled": true, "fill": "#ffffff", "stroke": "#000000", "strokeWidth": 3, "opacity": 1, "strokeJoin": "miter"},
      "encoding": {
        "x": {"field": "i", "type": "quantitative", "scale": {"domain": [-26, 377], "nice": false, "zero": false}},
        "y": {"field": "p", "type": "quantitative", "scale": {"domain": [1693.343, 1706.176], "nice": false, "zero": false}}
      }
    },
    {
      "data": {"name": "notes"},
      "mark": {"type": "text", "align": "left", "baseline": "middle", "font": "Open Sans", "fontWeight": "bold", "fontSize": 14, "color": "#0E0E2A"},
      "encoding": {
        "x": {"field": "i", "type": "quantitative", "scale": {"domain": [-26, 377], "nice": false, "zero": false}},
        "y": {"field": "p", "type": "quantitative", "scale": {"domain": [1693.343, 1706.176], "nice": false, "zero": false}},
        "text": {"field": "t"}
      }
    },
    {
      "data": {"values": [{}]},
      "mark": {"type": "rect", "color": "#00FFFF"},
      "encoding": {
        "x": {"datum": 378.25, "type": "quantitative", "scale": {"domain": [-26, 377], "nice": false, "zero": false}},
        "x2": {"datum": 388.5},
        "y": {"datum": 1700.6, "type": "quantitative", "scale": {"domain": [1693.343, 1706.176], "nice": false, "zero": false}},
        "y2": {"datum": 1700.25}
      }
    },
    {
      "data": {"values": [{}]},
      "mark": {"type": "rect", "color": "#000000"},
      "encoding": {
        "x": {"datum": 378.25, "type": "quantitative", "scale": {"domain": [-26, 377], "nice": false, "zero": false}},
        "x2": {"datum": 388.5},
        "y": {"datum": 1703.069, "type": "quantitative", "scale": {"domain": [1693.343, 1706.176], "nice": false, "zero": false}},
        "y2": {"datum": 1703.436}
      }
    },
    {
      "data": {"values": [{}]},
      "mark": {"type": "rect", "color": "#000000"},
      "encoding": {
        "x": {"datum": 378.25, "type": "quantitative", "scale": {"domain": [-26, 377], "nice": false, "zero": false}},
        "x2": {"datum": 389.75},
        "y": {"datum": 1700.184, "type": "quantitative", "scale": {"domain": [1693.343, 1706.176], "nice": false, "zero": false}},
        "y2": {"datum": 1700.578}
      }
    },
    {
      "data": {"values": [{}]},
      "mark": {"type": "rect", "color": "#000000"},
      "encoding": {
        "x": {"datum": -2.25, "type": "quantitative", "scale": {"domain": [-26, 377], "nice": false, "zero": false}},
        "x2": {"datum": 2.25},
        "y": {"datum": 1692.88, "type": "quantitative", "scale": {"domain": [1693.343, 1706.176], "nice": false, "zero": false}},
        "y2": {"datum": 1693.22}
      }
    },
    {
      "data": {"values": [{}]},
      "mark": {"type": "rect", "color": "#00C800"},
      "encoding": {
        "x": {"datum": 386.25, "type": "quantitative", "scale": {"domain": [-26, 377], "nice": false, "zero": false}},
        "x2": {"datum": 389.75},
        "y": {"datum": 1692.85, "type": "quantitative", "scale": {"domain": [1693.343, 1706.176], "nice": false, "zero": false}},
        "y2": {"datum": 1693.22}
      }
    },
    {
      "data": {"values": [{"t": "1703.25", "v": 1703.25}, {"t": "1700.375", "v": 1700.375}]},
      "mark": {"type": "text", "align": "left", "baseline": "middle", "font": "Liberation Sans", "fontSize": 11, "color": "#ffffff"},
      "encoding": {
        "x": {"datum": 378.75, "type": "quantitative", "scale": {"domain": [-26, 377], "nice": false, "zero": false}},
        "y": {"field": "v", "type": "quantitative", "scale": {"domain": [1693.343, 1706.176], "nice": false, "zero": false}},
        "text": {"field": "t"}
      }
    },
    {
      "data": {"values": [{}]},
      "mark": {"type": "text", "text": ":44", "align": "right", "baseline": "middle", "font": "Liberation Sans", "fontSize": 11, "color": "#000000"},
      "encoding": {
        "x": {"datum": -23.25, "type": "quantitative", "scale": {"domain": [-26, 377], "nice": false, "zero": false}},
        "y": {"datum": 1693.035, "type": "quantitative", "scale": {"domain": [1693.343, 1706.176], "nice": false, "zero": false}}
      }
    },
    {
      "data": {"values": [{}]},
      "mark": {"type": "text", "text": "3", "align": "center", "baseline": "middle", "font": "Liberation Sans", "fontSize": 12, "color": "#000000"},
      "encoding": {
        "x": {"datum": 388, "type": "quantitative", "scale": {"domain": [-26, 377], "nice": false, "zero": false}},
        "y": {"datum": 1693.035, "type": "quantitative", "scale": {"domain": [1693.343, 1706.176], "nice": false, "zero": false}}
      }
    }
  ]
}
